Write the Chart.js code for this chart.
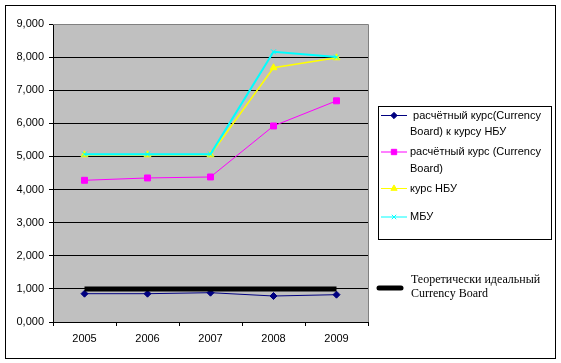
<!DOCTYPE html>
<html><head><meta charset="utf-8">
<script src="https://cdn.jsdelivr.net/npm/chart.js@4"></script>
<style>html,body{margin:0;padding:0;background:#fff}#w{position:relative;width:561px;height:363px}</style>
</head><body><div id="w"><canvas id="c" width="561" height="363"></canvas></div>
<script>
const years = ['2005', '2006', '2007', '2008', '2009'];
const calcToNbu = [0.855, 0.855, 0.885, 0.785, 0.825];
const calcRate = [4.28, 4.35, 4.38, 5.92, 6.68];
const nbuRate = [5.05, 5.05, 5.05, 7.68, 7.98];
const mbuRate = [5.07, 5.07, 5.07, 8.16, 8.00];
const idealCB = [1, 1, 1, 1, 1];
const seriesNames = [
  ' расчётный курс(Currency Board) к курсу НБУ',
  'расчётный курс (Currency Board)',
  'курс НБУ',
  'МБУ'
];
const idealName = ['Теоретически идеальный', 'Currency Board'];

const SANS = '"Liberation Sans", Arial, sans-serif';
const SERIF = '"Liberation Serif", "Times New Roman", serif';

const datasets = [
  {label: seriesNames[0], data: calcToNbu, borderColor: '#000080', backgroundColor: '#000080', borderWidth: 1,
   pointStyle: 'rectRot', pointRadius: 3.5, pointBorderWidth: 1, order: 1},
  {label: seriesNames[1], data: calcRate, borderColor: '#ff00ff', backgroundColor: '#ff00ff', borderWidth: 1,
   pointStyle: 'rect', pointRadius: 4.2, pointBorderWidth: 1, order: 2},
  {label: seriesNames[2], data: nbuRate, borderColor: '#ffff00', backgroundColor: '#ffff00', borderWidth: 1.5,
   pointStyle: 'triangle', pointRadius: 4, pointBorderWidth: 1, order: 4},
  {label: seriesNames[3], data: mbuRate, borderColor: '#00ffff', backgroundColor: '#00ffff', borderWidth: 2,
   pointStyle: 'crossRot', pointRadius: 3.5, pointBorderWidth: 1, order: 3},
  {label: idealName.join(' '), data: idealCB, borderColor: '#000000', backgroundColor: '#000000', borderWidth: 5,
   pointRadius: 0, order: 0}
];

const decor = {
  id: 'decor',
  beforeDraw(chart) {
    const {ctx, chartArea: a} = chart;
    ctx.save();
    ctx.fillStyle = '#c0c0c0';
    ctx.fillRect(a.left, a.top, a.right - a.left, a.bottom - a.top);
    ctx.restore();
  },
  beforeDatasetsDraw(chart) {
    const {ctx, chartArea: a} = chart;
    ctx.save();
    ctx.strokeStyle = '#808080';
    ctx.lineWidth = 1;
    ctx.beginPath();
    ctx.moveTo(a.left, Math.round(a.top) + 0.5);
    ctx.lineTo(Math.round(a.right) + 0.5, Math.round(a.top) + 0.5);
    ctx.lineTo(Math.round(a.right) + 0.5, a.bottom);
    ctx.stroke();
    ctx.restore();
  },
  afterDraw(chart) {
    const ctx = chart.ctx;
    ctx.save();
    ctx.strokeStyle = '#000';
    ctx.lineWidth = 1;
    ctx.strokeRect(5.5, 5.5, 550, 353);
    ctx.strokeRect(378.5, 106.5, 173, 133);
    ctx.font = '11px ' + SANS;
    ctx.textBaseline = 'middle';
    ctx.fillStyle = '#000';
    const maxW = 140;
    let y = 115;
    seriesNames.forEach((name, i) => {
      const ds = datasets[i];
      const lead = name.startsWith(' ') ? ' ' : '';
      const words = name.trim().split(' ');
      const lines = [];
      let cur = '';
      words.forEach(w => {
        const t = cur ? cur + ' ' + w : (lines.length === 0 ? lead + w : w);
        if (cur && ctx.measureText(t).width > maxW) { lines.push(cur); cur = w; }
        else cur = t;
      });
      if (cur) lines.push(cur);
      ctx.strokeStyle = ds.borderColor;
      ctx.lineWidth = 1;
      ctx.beginPath();
      ctx.moveTo(381, y + 0.5);
      ctx.lineTo(407, y + 0.5);
      ctx.stroke();
      ctx.fillStyle = ds.backgroundColor;
      ctx.strokeStyle = ds.borderColor;
      Chart.helpers.drawPoint(ctx, {pointStyle: ds.pointStyle, radius: ds.pointRadius * 0.9, borderWidth: 1, rotation: 0}, 394, y + 0.5);
      ctx.fillStyle = '#000';
      lines.forEach((ln, k) => ctx.fillText(ln, 410, y + 0.5 + k * 16.5));
      y += lines.length > 1 ? 36.5 : 28.5;
    });
    ctx.strokeStyle = '#000';
    ctx.lineWidth = 5;
    ctx.lineCap = 'round';
    ctx.beginPath();
    ctx.moveTo(379, 288);
    ctx.lineTo(401, 288);
    ctx.stroke();
    ctx.font = '12px ' + SERIF;
    ctx.fillStyle = '#000';
    ctx.fillText(idealName[0], 411, 279.5);
    ctx.fillText(idealName[1], 411, 293.5);
    ctx.restore();
  }
};

new Chart(document.getElementById('c'), {
  type: 'line',
  data: {labels: years, datasets},
  options: {
    responsive: false,
    animation: false,
    layout: {padding: {left: 5, top: 24, right: 193, bottom: 11}},
    plugins: {legend: {display: false}, tooltip: {enabled: false}},
    elements: {line: {tension: 0}},
    scales: {
      x: {
        offset: true,
        afterFit(s) { s.height = 30; },
        grid: {display: true, drawOnChartArea: false, drawTicks: true, tickLength: 4, color: '#000', offset: true},
        border: {display: true, color: '#000', width: 1},
        ticks: {color: '#000', font: {family: SANS, size: 11}, padding: 6, maxRotation: 0}
      },
      y: {
        min: 0, max: 9,
        afterFit(s) { s.width = 48; },
        grid: {color: c => (c.tick && c.tick.value === 9 ? '#808080' : '#000'), tickColor: '#000', tickLength: 4, lineWidth: 1},
        border: {display: true, color: '#000', width: 1},
        ticks: {stepSize: 1, color: '#000', font: {family: SANS, size: 11}, padding: 5,
          callback: v => v.toFixed(3).replace('.', ',')}
      }
    }
  },
  plugins: [decor]
});
</script>
</body></html>
